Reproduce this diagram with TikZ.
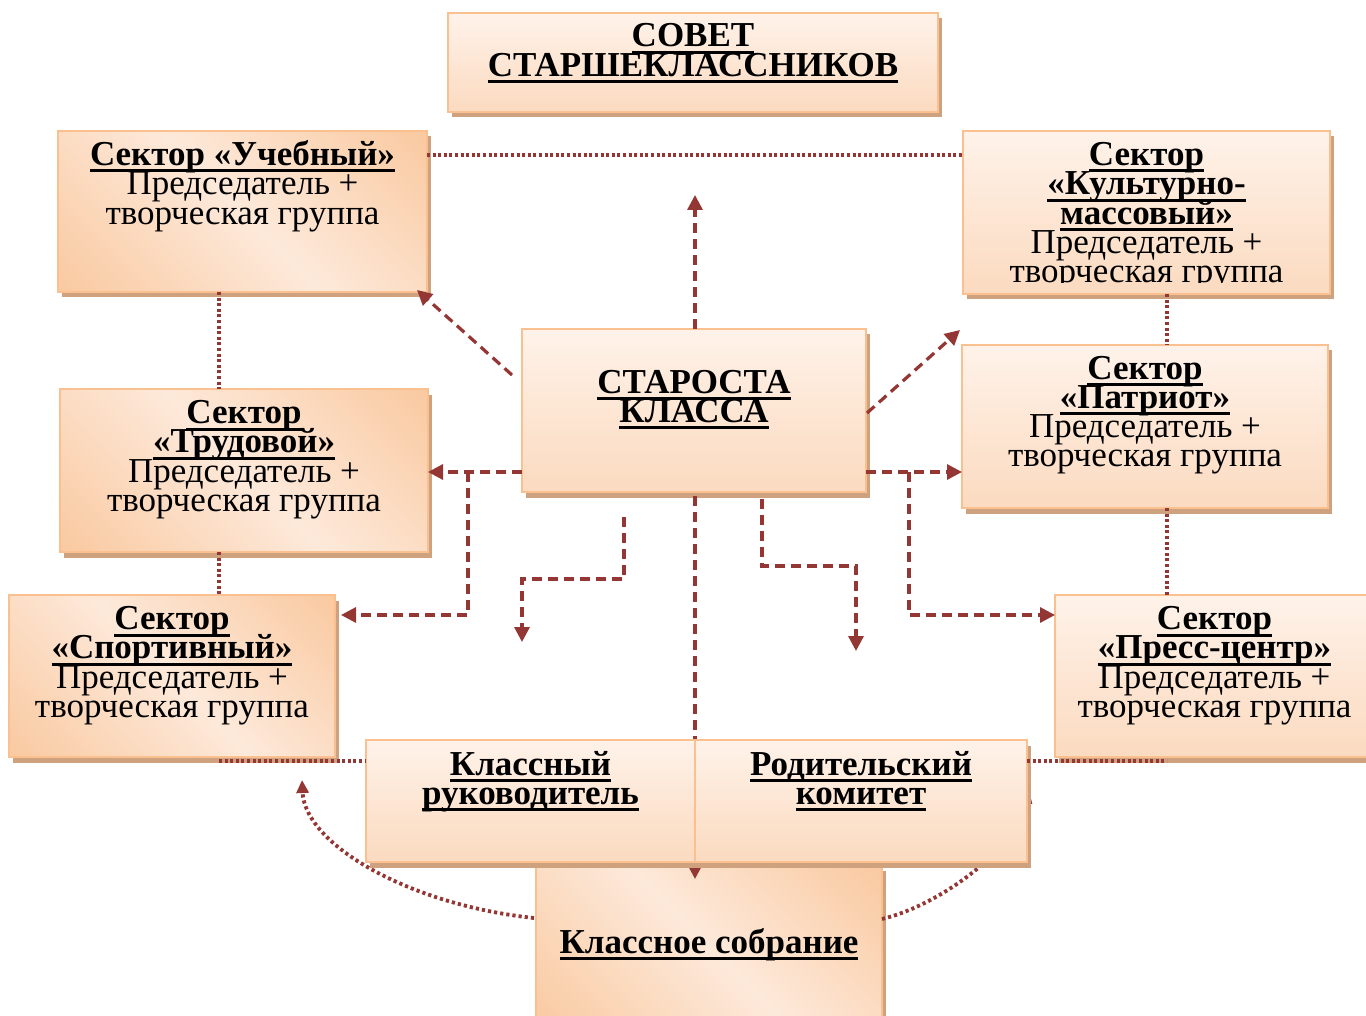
\documentclass[tikz,border=0pt]{standalone}
\usepackage{fontspec}
\setmainfont{Liberation Serif}
\usetikzlibrary{arrows.meta}
\definecolor{borderc}{HTML}{FAC090}
\definecolor{shadowc}{HTML}{CFA27F}
\definecolor{vbot}{HTML}{F9CFAC}
\definecolor{vmid}{HTML}{FDE6D4}
\definecolor{dor}{HTML}{F8BC88}
\definecolor{dlt}{HTML}{FDE9DA}
\definecolor{arrc}{HTML}{943634}
\pgfdeclareverticalshading{vgrad}{100bp}{color(0bp)=(vbot); color(50bp)=(vmid); color(100bp)=(white)}
\pgfdeclarehorizontalshading{dgrad}{100bp}{color(0bp)=(dor); color(50bp)=(dlt); color(100bp)=(dor)}
\newcommand\fst{\vrule width 0pt height 32pt depth 0pt\relax}
\newcommand\uu[1]{\setbox0=\hbox{\bfseries #1}\rlap{\smash{\rule[-7pt]{\wd0}{3pt}}}\box0}
\newcommand\bx[6]{\node[#2, minimum width={(#5-#3)*1pt}, minimum height={(#6-#4)*1pt}] (#1) at ({(#3+#5)/2},{(#4+#6)/2}) {};}
\newcommand\tx[3]{\node[txt] (#1-t) at ([yshift=-#2pt]#1.north) {#3};}
\tikzset{
  boxbase/.style={draw=borderc, line width=2.5pt, inner sep=0pt, outer sep=0pt,
    preaction={fill=shadowc, transform canvas={xshift=3.5pt,yshift=-5.5pt}}},
  vbox/.style={boxbase, shade, shading=vgrad},
  dbox/.style={boxbase, shade, shading=dgrad, shading angle=45},
  txt/.style={anchor=north, align=center, inner sep=0pt, outer sep=0pt,
    font=\fontsize{35pt}{29.3pt}\selectfont},
  dasharr/.style={draw=arrc, line width=3.2pt, dash pattern=on 10pt off 6pt,
    -{Triangle[length=15pt,width=15pt]}},
  dotln/.style={draw=arrc, line width=3.3pt, dash pattern=on 3pt off 2.6pt},
  dotarr/.style={dotln, line width=3.8pt, dash pattern=on 3.2pt off 3pt, -{Triangle[length=13pt,width=12pt]}}
}
\begin{document}
\begin{tikzpicture}[x=1pt,y=-1pt]
\lineskiplimit=-100pt
\fill[white] (0,0) rectangle (1366,1016);
\useasboundingbox (0,0) rectangle (1366,1016);
% helper coordinates
\coordinate (vl) at (219,0);
\coordinate (vr) at (1167,0);
\coordinate (hl) at (0,472);
\coordinate (hb) at (0,615);
\coordinate (bh) at (0,761);
\coordinate (bl) at (468,472);
\coordinate (br) at (909,472);
\coordinate (uptip) at (695,195);
\coordinate (sl0) at (624,517);
\coordinate (sl1) at (522,579);
\coordinate (sl2) at (522,642);
\coordinate (sr0) at (762,499);
\coordinate (sr1) at (856,566);
\coordinate (sr2) at (856,651);
\coordinate (ctip) at (695,879);
\coordinate (ltip) at (302,780);
\coordinate (rtip) at (1029,790);
% boxes
\bx{sovet}{vbox}{448}{13}{938}{112}
\bx{ucheb}{dbox}{58}{131}{427}{292}
\bx{kult}{vbox}{963}{131}{1330}{294}
\bx{trud}{dbox}{60}{389}{428}{552}
\bx{patr}{vbox}{962}{345}{1328}{508}
\bx{sport}{dbox}{9}{595}{335}{757}
\bx{press}{vbox}{1055}{595}{1374}{757}
\bx{star}{vbox}{522}{329}{866}{492}
\bx{sobr}{dbox}{536}{865}{882}{1030}
% dotted links
\draw[dotln] ([yshift=-24pt]ucheb.north east) -- ([yshift=-24pt]kult.north west);
\draw[dotln] (ucheb.south -| vl) -- (trud.north -| vl);
\draw[dotln] (trud.south -| vl) -- (sport.north -| vl);
\draw[dotln] (kult.south -| vr) -- (patr.north -| vr);
\draw[dotln] (patr.south -| vr) -- (press.north -| vr);
% dashed arrows
\draw[dasharr] (uptip |- star.north) -- (uptip);
\draw[dasharr] ([shift={(-10pt,-46pt)}]star.north west) -- ([shift={(-10pt,2pt)}]ucheb.south east);
\draw[dasharr] ([shift={(1pt,-84pt)}]star.north east) -- ([shift={(-3pt,-36pt)}]kult.south west);
\draw[dasharr] (star.west |- hl) -- (trud.east |- hl);
\draw[dasharr] (bl) |- ([xshift=6pt]sport.east |- hb);
\draw[dasharr] (star.east |- hl) -- (patr.west |- hl);
\draw[dasharr] (br) |- (press.west |- hb);
\draw[dasharr] (sl0) |- (sl1) -- (sl2);
\draw[dasharr] (sr0) |- (sr1) -- (sr2);
\draw[dasharr] ([yshift=-4pt]ctip |- star.south) -- (ctip);
% curved dotted arrows
\draw[dotarr] ([shift={(-2pt,29.5pt)}]sobr.west) .. controls (410,905) and (305,845) .. (ltip);
\draw[dotarr] ([shift={(0pt,28.5pt)}]sobr.east) .. controls (940,905) and (1015,850) .. (rtip);
% lower boxes
\bx{klass}{vbox}{366}{740}{695}{862}
\bx{rodit}{vbox}{695}{740}{1027}{862}
\draw[dotln] (vl |- bh) -- (klass.west |- bh);
\draw[dotln] (rodit.east |- bh) -- (vr |- bh);
% texts
\tx{sovet}{2}{\fst\uu{СОВЕТ}\\\uu{СТАРШЕКЛАССНИКОВ}}
\tx{ucheb}{2.5}{\fst\uu{Сектор «Учебный»}\\Председатель +\\творческая группа}
\begin{scope}
\clip (kult.north west) rectangle ([yshift=11pt]kult.south east);
\tx{kult}{2.5}{\fst\uu{Сектор}\\\uu{«Культурно-}\\\uu{массовый»}\\Председатель +\\творческая группа}
\end{scope}
\tx{trud}{2.5}{\fst\uu{Сектор}\\\uu{«Трудовой»}\\Председатель +\\творческая группа}
\tx{patr}{2}{\fst\uu{Сектор}\\\uu{«Патриот»}\\Председатель +\\творческая группа}
\tx{sport}{2.5}{\fst\uu{Сектор}\\\uu{«Спортивный»}\\Председатель +\\творческая группа}
\tx{press}{2.5}{\fst\uu{Сектор}\\\uu{«Пресс-центр»}\\Председатель +\\творческая группа}
\tx{star}{32}{\fst\uu{СТАРОСТА}\\\uu{КЛАССА}}
\tx{klass}{3}{\fst\uu{Классный}\\\uu{руководитель}}
\tx{rodit}{3}{\fst\uu{Родительский}\\\uu{комитет}}
\tx{sobr}{56}{\fst\uu{Классное собрание}}
\end{tikzpicture}
\end{document}
